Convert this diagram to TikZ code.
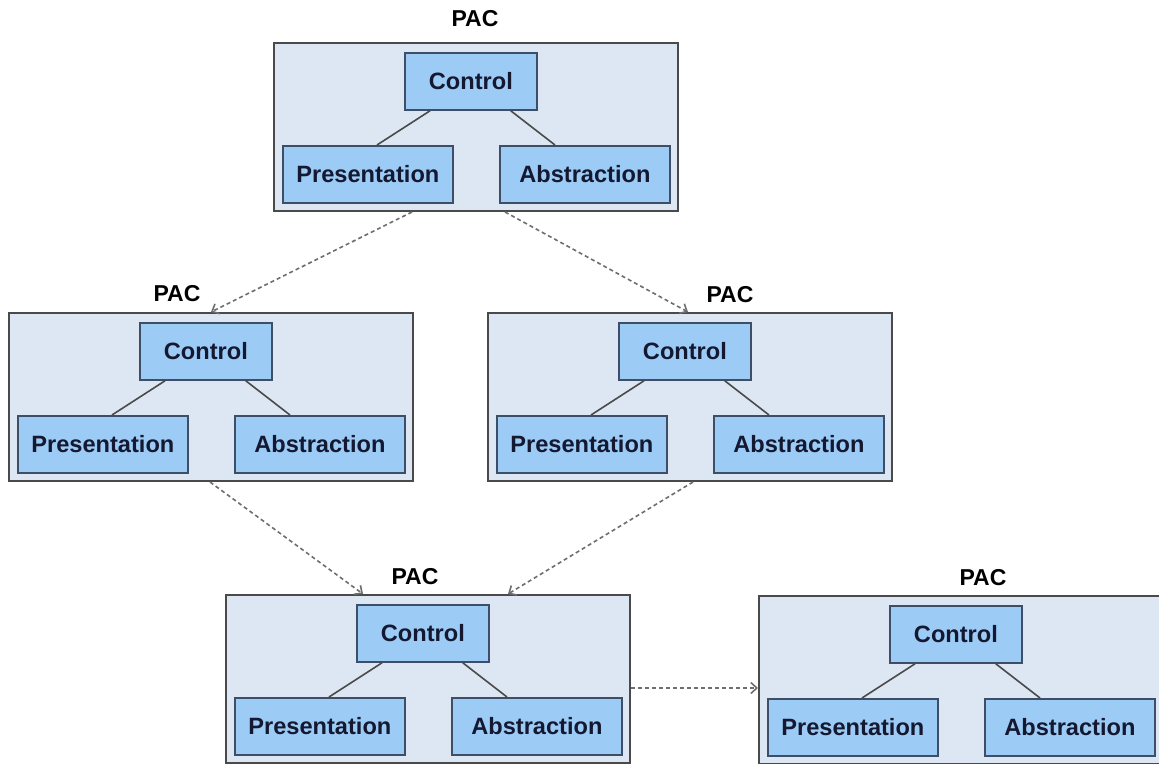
\documentclass[tikz,border=0pt]{standalone}
\usepackage{fontspec}
\setmainfont{Liberation Sans}
\usetikzlibrary{arrows.meta}
\definecolor{outerfill}{HTML}{DDE7F3}
\definecolor{innerfill}{HTML}{9CCBF6}
\definecolor{edge}{HTML}{4A4A4A}
\definecolor{inedge}{HTML}{3E4E66}
\definecolor{txt}{HTML}{141830}
\tikzset{
 outerbox/.style={draw=edge, fill=outerfill, line width=2pt, minimum width=404pt, minimum height=168pt, anchor=north west, inner sep=0pt},
 innerbox/.style={draw=inedge, fill=innerfill, line width=1.8pt, anchor=north west, inner sep=0pt, minimum height=57pt, font=\fontsize{23.6}{27}\selectfont\bfseries, text=txt},
 ctrlbox/.style={innerbox, minimum width=132pt},
 partbox/.style={innerbox, minimum width=170pt},
 linkline/.style={draw=edge, line width=1.6pt},
 paclabel/.style={font=\fontsize{23}{27}\selectfont\bfseries, text=black},
 flowline/.style={draw=edge!80, dash pattern=on 4pt off 3pt, line width=1.6pt, -{Straight Barb[length=6pt,width=11pt]}},
}
\newcommand\pacblk[5]{%
  \node[outerbox] (#1) at (#2,#3) {};
  \node[ctrlbox] (#1c) at ([xshift=131pt,yshift=-10pt]#1.north west) {Control};
  \node[partbox] (#1p) at ([xshift=9pt,yshift=-103pt]#1.north west) {Presentation};
  \node[partbox] (#1a) at ([xshift=226pt,yshift=-103pt]#1.north west) {Abstraction};
  \draw[linkline] ([xshift=26pt]#1c.south west) -- ([xshift=95pt]#1p.north west);
  \draw[linkline] ([xshift=-27pt]#1c.south east) -- ([xshift=56pt]#1a.north west);
  \node[paclabel] (#1l) at ([xshift=#4pt,yshift=#5pt]#1.north west) {PAC};
}
\begin{document}
\begin{tikzpicture}[x=1pt,y=-1pt]
\fill[white] (0,0) rectangle (1159,763);
\useasboundingbox (0,0) rectangle (1159,763);
\clip (0,0) rectangle (1159,763);
\pacblk{top}{273}{42}{202}{23.5}
\pacblk{ml}{8}{312}{169}{18.5}
\pacblk{mr}{487}{312}{243}{17}
\pacblk{bl}{225}{594}{190}{17.5}
\pacblk{br}{758}{595}{225}{17}
\draw[flowline] ([xshift=139pt]top.south west) -- ([xshift=203pt]ml.north west);
\draw[flowline] ([xshift=232pt]top.south west) -- ([xshift=201pt]mr.north west);
\draw[flowline] ([xshift=202pt]ml.south west) -- ([xshift=138pt]bl.north west);
\draw[flowline] ([xshift=206pt]mr.south west) -- ([xshift=283pt]bl.north west);
\coordinate (blr) at ([yshift=-94pt]bl.north east);
\draw[flowline] (blr) -- (blr -| br.west);
\end{tikzpicture}
\end{document}
